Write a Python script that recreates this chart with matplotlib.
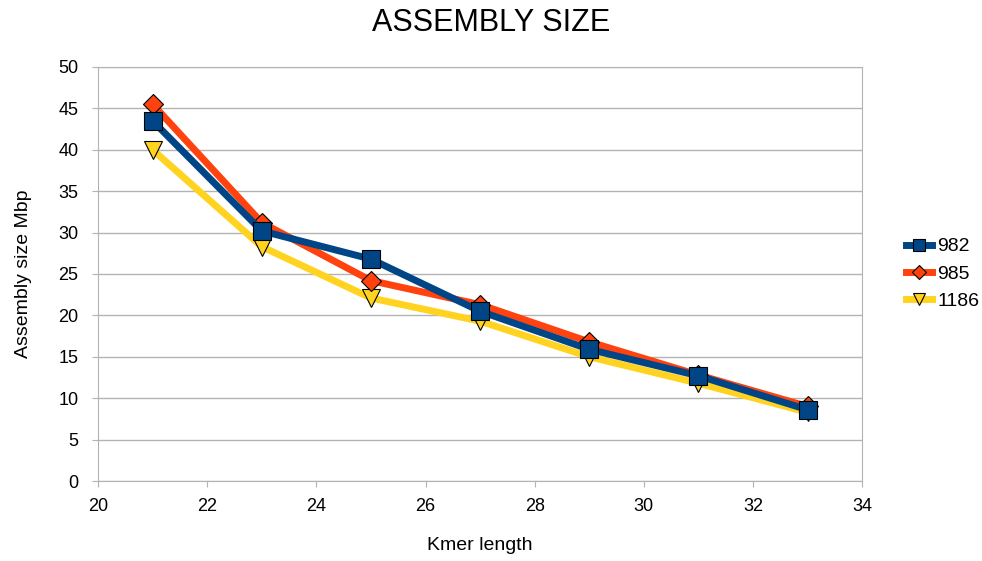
import matplotlib.pyplot as plt
import numpy as np

plt.rcParams['font.family'] = ['Liberation Sans', 'DejaVu Sans']

# data
kmer = [21, 23, 25, 27, 29, 31, 33]
s982 = [43.5, 30.2, 26.8, 20.5, 15.9, 12.7, 8.6]
s985 = [45.5, 31.2, 24.2, 21.3, 16.8, 12.8, 9.0]
s1186 = [40.0, 28.3, 22.1, 19.3, 15.0, 11.8, 8.3]

fig = plt.figure(figsize=(9.82, 5.61), dpi=100)
ax = fig.add_axes([0.0998, 0.1426, 0.7782, 0.738])

ax.plot(kmer, s1186, color='#ffd320', lw=5, marker='v', ms=13,
        mec='black', mew=0.8, label='1186', zorder=3)
ax.plot(kmer, s985, color='#ff420e', lw=5, marker='D', ms=10,
        mec='black', mew=0.8, label='985', zorder=4)
ax.plot(kmer, s982, color='#004586', lw=5, marker='s', ms=13,
        mec='black', mew=0.8, label='982', zorder=5)

ax.set_xlim(20, 34)
ax.set_ylim(0, 50)
ax.set_xticks(np.arange(20, 35, 2))
ax.set_yticks(np.arange(0, 51, 5))
ax.yaxis.grid(True, color='#b3b3b3', lw=1)
ax.set_axisbelow(True)
for s in ax.spines.values():
    s.set_color('#b3b3b3')
ax.tick_params(colors='#b3b3b3', labelcolor='black', labelsize=13, length=4)
ax.tick_params(axis='y', pad=10)
ax.tick_params(axis='x', pad=8)

ax.set_xlabel('Kmer length', fontsize=14, labelpad=16)
ax.set_ylabel('Assembly size Mbp', fontsize=14, labelpad=19)
fig.suptitle('ASSEMBLY SIZE', fontsize=22, y=0.985)

h, l = ax.get_legend_handles_labels()
ax.legend(h[::-1], l[::-1], loc='center left', bbox_to_anchor=(1.035, 0.5),
          frameon=False, fontsize=14, handlelength=1.3, handletextpad=0.3,
          markerscale=0.7, labelspacing=0.5)

fig.savefig('out.png', dpi=100)
